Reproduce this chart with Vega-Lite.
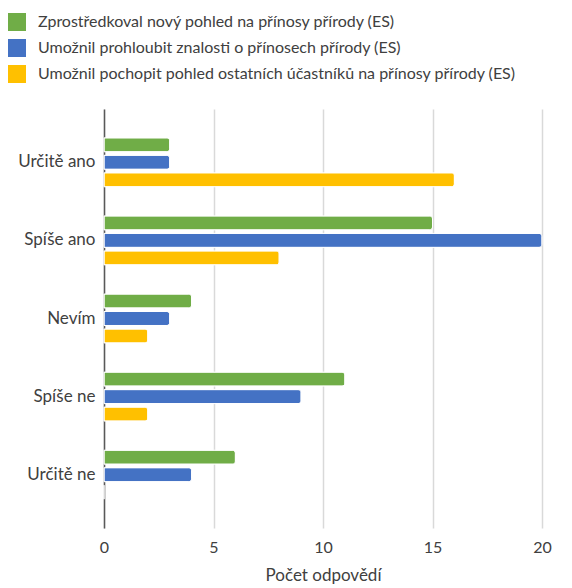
{
  "$schema": "https://vega.github.io/schema/vega-lite/v6.json",
  "autosize": "none",
  "padding": {"left": 104, "top": 109, "right": 30, "bottom": 60},
  "width": 438,
  "height": 419,
  "background": "white",
  "config": {
    "font": "Lato",
    "view": {"stroke": null}
  },
  "data": {
    "values": [
      {"odpoved": "Určitě ano", "typ": "Zprostředkoval nový pohled na přínosy přírody (ES)", "pocet": 3},
      {"odpoved": "Určitě ano", "typ": "Umožnil prohloubit znalosti o přínosech přírody (ES)", "pocet": 3},
      {"odpoved": "Určitě ano", "typ": "Umožnil pochopit pohled ostatních účastníků na přínosy přírody (ES)", "pocet": 16},
      {"odpoved": "Spíše ano", "typ": "Zprostředkoval nový pohled na přínosy přírody (ES)", "pocet": 15},
      {"odpoved": "Spíše ano", "typ": "Umožnil prohloubit znalosti o přínosech přírody (ES)", "pocet": 20},
      {"odpoved": "Spíše ano", "typ": "Umožnil pochopit pohled ostatních účastníků na přínosy přírody (ES)", "pocet": 8},
      {"odpoved": "Nevím", "typ": "Zprostředkoval nový pohled na přínosy přírody (ES)", "pocet": 4},
      {"odpoved": "Nevím", "typ": "Umožnil prohloubit znalosti o přínosech přírody (ES)", "pocet": 3},
      {"odpoved": "Nevím", "typ": "Umožnil pochopit pohled ostatních účastníků na přínosy přírody (ES)", "pocet": 2},
      {"odpoved": "Spíše ne", "typ": "Zprostředkoval nový pohled na přínosy přírody (ES)", "pocet": 11},
      {"odpoved": "Spíše ne", "typ": "Umožnil prohloubit znalosti o přínosech přírody (ES)", "pocet": 9},
      {"odpoved": "Spíše ne", "typ": "Umožnil pochopit pohled ostatních účastníků na přínosy přírody (ES)", "pocet": 2},
      {"odpoved": "Určitě ne", "typ": "Zprostředkoval nový pohled na přínosy přírody (ES)", "pocet": 6},
      {"odpoved": "Určitě ne", "typ": "Umožnil prohloubit znalosti o přínosech přírody (ES)", "pocet": 4},
      {"odpoved": "Určitě ne", "typ": "Umožnil pochopit pohled ostatních účastníků na přínosy přírody (ES)", "pocet": 0}
    ]
  },
  "mark": {"type": "bar", "cornerRadiusEnd": 3, "stroke": "white", "strokeWidth": 1},
  "encoding": {
    "y": {
      "field": "odpoved",
      "type": "nominal",
      "sort": ["Určitě ano", "Spíše ano", "Nevím", "Spíše ne", "Určitě ne"],
      "scale": {"paddingInner": 0.373, "paddingOuter": 0.369},
      "axis": {
        "title": null,
        "ticks": false,
        "domain": true,
        "domainColor": "#595959",
        "domainWidth": 1.5,
        "labelFontSize": 17,
        "labelColor": "#404040",
        "labelPadding": 9,
        "grid": false
      }
    },
    "yOffset": {
      "field": "typ",
      "type": "nominal",
      "sort": [
        "Zprostředkoval nový pohled na přínosy přírody (ES)",
        "Umožnil prohloubit znalosti o přínosech přírody (ES)",
        "Umožnil pochopit pohled ostatních účastníků na přínosy přírody (ES)"
      ],
      "scale": {"paddingInner": 0.2, "paddingOuter": 0}
    },
    "x": {
      "field": "pocet",
      "type": "quantitative",
      "scale": {"domain": [0, 20], "nice": false},
      "axis": {
        "values": [0, 5, 10, 15, 20],
        "title": "Počet odpovědí",
        "titleFontSize": 17,
        "titleFontWeight": "normal",
        "titleColor": "#404040",
        "titlePadding": 12,
        "labelFontSize": 16,
        "labelColor": "#404040",
        "labelPadding": 11,
        "labelFlush": false,
        "ticks": false,
        "domain": false,
        "grid": true,
        "gridColor": "#D9D9D9",
        "gridWidth": 1.5
      }
    },
    "color": {
      "field": "typ",
      "type": "nominal",
      "scale": {
        "domain": [
          "Zprostředkoval nový pohled na přínosy přírody (ES)",
          "Umožnil prohloubit znalosti o přínosech přírody (ES)",
          "Umožnil pochopit pohled ostatních účastníků na přínosy přírody (ES)"
        ],
        "range": ["#70AD47", "#4472C4", "#FFC000"]
      },
      "legend": {
        "title": null,
        "orient": "none",
        "legendX": -96,
        "legendY": -96,
        "symbolType": "square",
        "symbolSize": 324,
        "symbolStrokeWidth": 0,
        "symbolOpacity": 1,
        "labelFontSize": 16,
        "labelColor": "#404040",
        "labelOffset": 12,
        "labelLimit": 600,
        "rowPadding": 8
      }
    }
  }
}
